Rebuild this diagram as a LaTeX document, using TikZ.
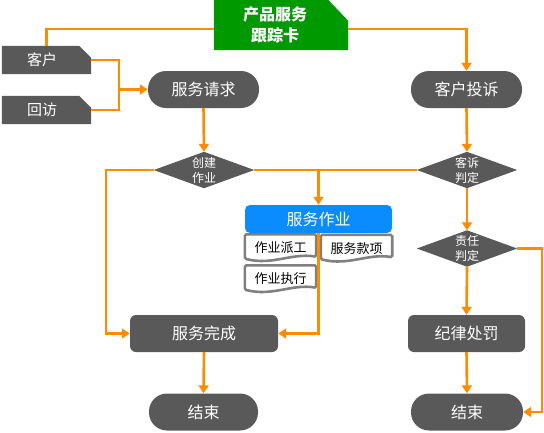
\documentclass[tikz,border=0pt]{standalone}
\usepackage{fontspec}
\newfontfamily\cjk{Noto Sans CJK SC}
\usetikzlibrary{arrows.meta}
\pgfdeclarelayer{bg}
\pgfsetlayers{bg,main}
\definecolor{dk}{HTML}{595959}
\definecolor{og}{HTML}{FF8C00}
\definecolor{gr}{HTML}{009900}
\definecolor{bl}{HTML}{0A8CFF}
\definecolor{dg}{HTML}{808080}
\begin{document}
\begin{tikzpicture}[x=1pt,y=-1pt,
 lbl/.style={inner sep=0pt, text=white, font=\cjk\fontsize{16}{19}\selectfont},
 pill/.style={lbl, fill=dk, rounded corners=18pt, minimum height=37pt},
 rbox/.style={lbl, fill=dk, rounded corners=6pt, minimum height=37pt},
 dia/.style={lbl, minimum width=100pt, minimum height=36pt, align=center, font=\cjk\fontsize{12}{15}\selectfont},
 tag/.style={lbl, minimum width=89pt, minimum height=28pt, font=\cjk\fontsize{15}{18}\selectfont},
 docl/.style={inner sep=0pt, minimum width=71pt, minimum height=27pt, font=\cjk\fontsize{13}{15}\selectfont, text=black},
 docb/.style={draw=dg, line width=2.6pt, fill=white, rounded corners=1.5pt},
 conn/.style={draw=og, line width=2.6pt},
 arr/.style={conn, -{Triangle[length=8pt,width=10pt]}},
]
\useasboundingbox (0,0) rectangle (544,432);

% nodes
\node[lbl, minimum width=134pt, minimum height=50pt, align=center, font=\cjk\bfseries\fontsize{16}{21}\selectfont] (title) at (281,25) {\hspace*{-12pt}产品服务\\\hspace*{-12pt}跟踪卡};
\node[tag] (kh) at (46.5,60) {\hspace*{-9pt}客户};
\node[tag] (hf) at (46.5,110) {\hspace*{-9pt}回访};
\node[pill, minimum width=111pt] (fwqq) at (203.5,89.5) {服务请求};
\node[pill, minimum width=111pt] (khts) at (466.5,89.5) {客户投诉};
\node[dia] (cj) at (204,170) {创建\\作业};
\node[dia] (kspd) at (467,170) {客诉\\判定};
\node[dia] (zrpd) at (467,248.5) {责任\\判定};
\node[lbl, fill=bl, rounded corners=5pt, minimum width=147pt, minimum height=28pt] (fwzy) at (318.5,219) {服务作业};
\node[docl] (d1) at (280.5,248) {作业派工};
\node[docl] (d2) at (356.5,248.5) {服务款项};
\node[docl] (d3) at (280.5,279) {作业执行};
\node[rbox, minimum width=148pt] (fwwc) at (204,333.5) {服务完成};
\node[pill, minimum width=109pt] (js1) at (203.5,412) {结束};
\node[rbox, minimum width=117pt] (jlcf) at (466.5,333.5) {纪律处罚};
\node[pill, minimum width=112pt] (js2) at (467,412) {结束};

% background shapes
\begin{pgfonlayer}{bg}
\fill[gr] (title.south west) -- (title.north west) -- ([xshift=-20pt]title.north east) -- ([yshift=-21pt]title.north east) -- (title.south east) -- cycle;
\foreach \n in {kh,hf}{
  \fill[dk] (\n.south west) -- (\n.north west) -- ([xshift=-12pt]\n.north east) -- ([yshift=-12pt]\n.north east) -- (\n.south east) -- cycle;
}
\foreach \n in {cj,kspd,zrpd}{
  \fill[dk] (\n.north) -- (\n.east) -- (\n.south) -- (\n.west) -- cycle;
}
\foreach \n in {d1,d2,d3}{
  \draw[docb] ([yshift=3pt]\n.south west) -- (\n.north west) -- (\n.north east) -- ([yshift=5pt]\n.south east) .. controls ([xshift=-25pt,yshift=9pt]\n.south east) and ([xshift=28pt,yshift=-4pt]\n.south west) .. ([yshift=3pt]\n.south west) -- cycle;
}
\end{pgfonlayer}

% connectors
\coordinate (j1) at (119,89.5);
\coordinate (lt) at (106,333.5);
\coordinate (rt) at (542,412);
\draw[conn] (kh.north) |- ([yshift=-4pt]title.west);
\draw[arr] ([yshift=-4pt]title.east) -| (khts.north);
\draw[conn] (kh.east) -| (j1);
\draw[conn] (hf.east) -| (j1);
\draw[arr] (j1) -- (fwqq.west);
\draw[arr] (fwqq.south) -- (cj.north);
\draw[conn] (cj.east) -- (kspd.west);
\draw[arr] (cj.east -| fwzy.north) -- (fwzy.north);
\draw[arr] (cj.west) -| (lt) -- (fwwc.west);
\draw[arr] (fwzy.south) |- (fwwc.east);
\draw[arr] (fwwc.south) -- (js1.north);
\draw[arr] (khts.south) -- (kspd.north);
\draw[arr] (kspd.south) -- (zrpd.north);
\draw[arr] (zrpd.south) -- (jlcf.north);
\draw[arr] (jlcf.south) -- (js2.north);
\draw[arr] (zrpd.east) -| (rt) -- (js2.east);
\end{tikzpicture}
\end{document}
